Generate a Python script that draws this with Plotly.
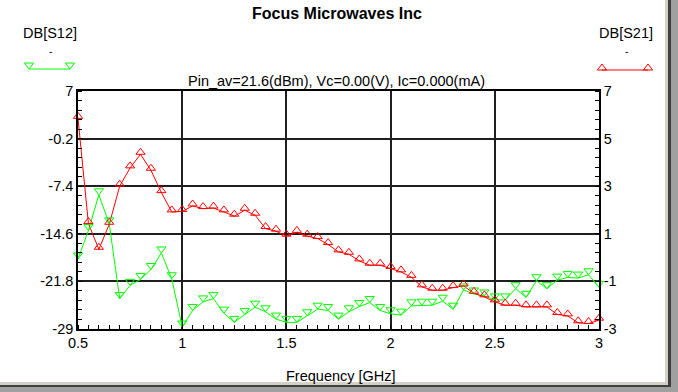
import plotly.graph_objects as go

freq_ghz = [0.5, 0.55, 0.6, 0.65, 0.7, 0.75, 0.8, 0.85, 0.9, 0.95,
            1.0, 1.05, 1.1, 1.15, 1.2, 1.25, 1.3, 1.35, 1.4, 1.45,
            1.5, 1.55, 1.6, 1.65, 1.7, 1.75, 1.8, 1.85, 1.9, 1.95,
            2.0, 2.05, 2.1, 2.15, 2.2, 2.25, 2.3, 2.35, 2.4, 2.45,
            2.5, 2.55, 2.6, 2.65, 2.7, 2.75, 2.8, 2.85, 2.9, 2.95, 3.0]

db_s12 = [-18.4, -14.1, -8.7, -13.1, -24.4, -22.4, -21.5, -20.0, -17.5, -21.4,
          -28.7, -26.2, -24.9, -24.4, -26.6, -28.0, -26.8, -25.7, -26.4, -27.5,
          -28.0, -28.0, -27.0, -26.0, -26.2, -27.5, -26.4, -25.6, -25.0, -26.2,
          -26.7, -26.9, -25.5, -25.4, -25.4, -24.8, -26.0, -23.1, -23.7, -24.0,
          -24.6, -24.6, -22.9, -24.2, -21.7, -22.9, -21.6, -21.2, -21.3, -20.8, -22.7]

db_s21 = [5.85, 1.43, 0.35, 1.40, 3.00, 3.77, 4.34, 3.67, 2.73, 1.92,
          1.94, 2.17, 2.06, 2.08, 1.92, 1.74, 1.99, 1.78, 1.22, 1.11,
          0.90, 1.06, 0.90, 0.80, 0.55, 0.24, 0.14, -0.14, -0.32, -0.32,
          -0.46, -0.60, -0.83, -1.23, -1.37, -1.37, -1.26, -1.19, -1.50, -1.65,
          -1.86, -2.00, -2.00, -2.07, -2.07, -2.07, -2.39, -2.45, -2.74, -2.77, -2.63]

x_tickvals = [0.5, 1, 1.5, 2, 2.5, 3]
x_ticktext = ["0.5", "1", "1.5", "2", "2.5", "3"]
left_tickvals = [-29, -21.8, -14.6, -7.4, -0.2, 7]
left_ticktext = ["-29", "-21.8", "-14.6", "-7.4", "-0.2", "7"]
right_tickvals = [-3, -1, 1, 3, 5, 7]
right_ticktext = ["-3", "-1", "1", "3", "5", "7"]

title_text = "Focus Microwaves Inc"
subtitle_text = "Pin_av=21.6(dBm), Vc=0.00(V), Ic=0.000(mA)"
xlabel_text = "Frequency [GHz]"
name_s12 = "DB[S12]"
name_s21 = "DB[S21]"

# ---- layout geometry (pixels) ----
W_FIG, H_FIG = 678, 392
PL, PR, PT, PB = 78, 599, 91, 329
PW, PH = PR - PL, PB - PT
LEFT_RANGE = [-29, 7]
RIGHT_RANGE = [-3, 7]
U1 = (LEFT_RANGE[1] - LEFT_RANGE[0]) / PH
U2 = (RIGHT_RANGE[1] - RIGHT_RANGE[0]) / PH
GREEN_MK_UP = 4   # marker drawn above its point
RED_MK_UP = 2

def fx(x):
    return (x - PL) / PW

def fy(y):
    return (PB - y) / PH

FONT = "Liberation Sans"
GREEN = "#00ff00"
RED = "#ff0000"
GRID = "#1e1e1e"
TXT = 14.5

fig = go.Figure()
# lines
fig.add_trace(go.Scatter(x=freq_ghz, y=db_s12, mode="lines", line=dict(color=GREEN, width=1),
                         yaxis="y", showlegend=False, hoverinfo="skip"))
fig.add_trace(go.Scatter(x=freq_ghz, y=db_s21, mode="lines", line=dict(color=RED, width=1),
                         yaxis="y2", showlegend=False, hoverinfo="skip"))
# markers (drawn above their points, like the original software)
fig.add_trace(go.Scatter(x=freq_ghz, y=db_s12, mode="markers", yaxis="y3", cliponaxis=False,
                         marker=dict(symbol="triangle-down-open", size=8, color=GREEN, line=dict(width=1)),
                         showlegend=False, name=name_s12))
fig.add_trace(go.Scatter(x=freq_ghz, y=db_s21, mode="markers", yaxis="y4", cliponaxis=False,
                         marker=dict(symbol="triangle-up-open", size=8, color=RED, line=dict(width=1)),
                         showlegend=False, name=name_s21))

tickfont = dict(family=FONT, size=TXT, color="black")

fig.update_layout(
    width=W_FIG, height=H_FIG,
    margin=dict(l=PL, r=W_FIG - PR, t=PT, b=H_FIG - PB, autoexpand=False),
    paper_bgcolor="white", plot_bgcolor="white",
    showlegend=False,
    xaxis=dict(range=[0.5, 3], tickmode="array", tickvals=x_tickvals, ticktext=x_ticktext,
               showgrid=True, gridcolor=GRID, gridwidth=1.6, zeroline=False,
               showline=True, linecolor="black", linewidth=1.6, mirror=True,
               ticks="", tickfont=tickfont,
               minor=dict(ticks="inside", tick0=0.5, dtick=0.05, ticklen=4, tickcolor="black", tickwidth=1, showgrid=False)),
    yaxis=dict(range=LEFT_RANGE, tickmode="array", tickvals=left_tickvals, ticktext=left_ticktext,
               showgrid=True, gridcolor=GRID, gridwidth=1.6, zeroline=False,
               showline=True, linecolor="black", linewidth=1.6,
               ticks="", tickfont=tickfont,
               minor=dict(ticks="inside", tick0=-29, dtick=1.44, ticklen=4, tickcolor="black", tickwidth=1, showgrid=False)),
    yaxis2=dict(range=RIGHT_RANGE, overlaying="y", side="right", tickmode="array",
                tickvals=right_tickvals, ticktext=right_ticktext,
                showgrid=False, zeroline=False, showline=True, linecolor="black", linewidth=1.6,
                ticks="", tickfont=tickfont,
                minor=dict(ticks="inside", tick0=-3, dtick=0.4, ticklen=4, tickcolor="black", tickwidth=1, showgrid=False)),
    yaxis3=dict(range=[LEFT_RANGE[0] - GREEN_MK_UP * U1, LEFT_RANGE[1] - GREEN_MK_UP * U1],
                overlaying="y", visible=False),
    yaxis4=dict(range=[RIGHT_RANGE[0] - RED_MK_UP * U2, RIGHT_RANGE[1] - RED_MK_UP * U2],
                overlaying="y", visible=False),
)

def ann(text, x, y, size=TXT, bold=False, color="black"):
    fig.add_annotation(text=("<b>%s</b>" % text) if bold else text, x=fx(x), y=fy(y),
                       xref="paper", yref="paper", xanchor="center", yanchor="middle",
                       showarrow=False, font=dict(family=FONT, size=size, color=color))

ann(title_text, 337, 13, size=16, bold=True)
ann(name_s12, 50, 33)
ann("-", 50, 52, size=10)
ann(name_s21, 626, 33)
ann("-", 626, 52, size=10)
ann(subtitle_text, 336, 81)
ann(xlabel_text, 341, 376)

shapes = []
# legend glyphs
def leg_line(x0, x1, y, color):
    shapes.append(dict(type="line", xref="paper", yref="paper", x0=fx(x0), x1=fx(x1), y0=fy(y), y1=fy(y),
                       line=dict(color=color, width=1)))

def tri(xc, y, color, down):
    if down:
        path = "M -4.6,6 L 4.6,6 L 0,0 Z"
    else:
        path = "M -4.6,0 L 4.6,0 L 0,6 Z"
    shapes.append(dict(type="path", xref="paper", yref="paper", xsizemode="pixel", ysizemode="pixel",
                       xanchor=fx(xc), yanchor=fy(y), path=path, line=dict(color=color, width=1),
                       fillcolor="rgba(0,0,0,0)"))

leg_line(29, 70, 69, GREEN)
tri(29, 69, GREEN, True)
tri(70, 69, GREEN, True)
leg_line(602, 648, 70, RED)
tri(602, 70, RED, False)
tri(648, 70, RED, False)

# window frame (right & bottom)
def rect(x0, y0, x1, y1, color):
    shapes.append(dict(type="rect", xref="paper", yref="paper", x0=fx(x0), x1=fx(x1), y0=fy(y0), y1=fy(y1),
                       line=dict(width=0), fillcolor=color, layer="above"))

rect(665, 0, 668, 392, "#d4d0c8")
rect(668, 0, 671, 392, "#404040")
rect(671, 0, 678, 392, "#a0a0a0")
rect(0, 382, 668, 385, "#d4d0c8")
rect(0, 385, 671, 387, "#404040")
rect(0, 387, 678, 392, "#a0a0a0")

fig.update_layout(shapes=shapes)
fig.write_html("out.html", config={"displayModeBar": False},
               post_script="document.body.style.margin='0';document.body.style.padding='0';document.body.style.overflow='hidden';")
